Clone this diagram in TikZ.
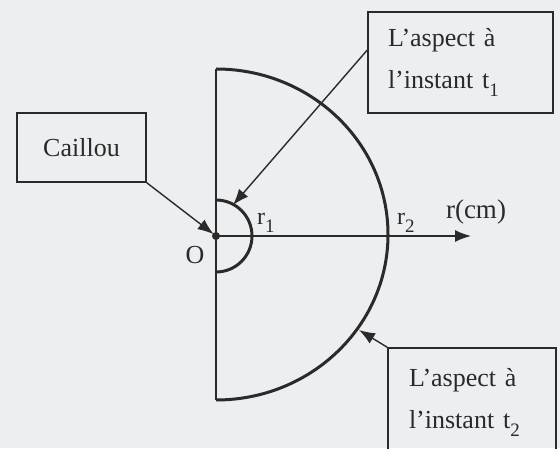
\documentclass[tikz,border=0pt]{standalone}
\usepackage{fontspec}
\setmainfont{Liberation Serif}
\usetikzlibrary{arrows.meta}
\definecolor{paper}{HTML}{EDEEF0}
\definecolor{ink}{HTML}{2A2A2A}
\newcommand{\subdig}[1]{\raisebox{-8pt}{\fontsize{19}{19}\selectfont #1}}
\begin{document}
\begin{tikzpicture}[x=1pt,y=1pt,
  box/.style={draw=ink, line width=1.4pt, text=ink, font=\fontsize{26}{42}\selectfont},
  ptr/.style={draw=ink, line width=1.4pt, -{Latex[length=16pt,width=12pt]}},
  lbl/.style={text=ink, inner sep=0pt}]
\useasboundingbox (0,0) rectangle (560,448);
\fill[paper] (0,0) rectangle (560,448);
\begin{scope}
\clip (0,0) rectangle (560,448);
% origin and named points
\coordinate (O) at (216,212);
\coordinate (top) at (216,379);
\coordinate (bot) at (216,48);
\coordinate (axend) at (471,212);
\coordinate (stop) at (216,248);
\coordinate (a1) at (233,243);
\coordinate (a2) at (359,118);
% axes
\draw[ink, line width=1.5pt] (top) -- (bot);
\draw[ink, line width=1.5pt, -{Latex[length=16pt,width=12pt]}] (O) -- (axend);
% wave fronts
\draw[ink, line width=3pt] (top) arc[start angle=90, end angle=-90, x radius=172, y radius=165.5];
\draw[ink, line width=3pt] (stop) arc[start angle=90, end angle=-90, radius=36];
\fill[ink] (O) circle (4pt);
% labels
\node[lbl, font=\fontsize{27}{27}\selectfont] (rcm) at (476,236) {r(cm)};
\node[lbl, anchor=base west, font=\fontsize{24}{24}\selectfont] (r1) at (257,223) {r\subdig{1}};
\node[lbl, anchor=base west, font=\fontsize{24}{24}\selectfont] (r2) at (397,223) {r\subdig{2}};
\node[lbl, font=\fontsize{26}{26}\selectfont] (Olab) at (195,193) {O};
% boxes
\node[box, minimum width=129pt, minimum height=69pt, inner sep=0pt] (cail) at (81.5,300.5) {Caillou};
\node[box, text width=145pt, inner xsep=20pt, inner ysep=0pt, minimum height=101pt, align=left] (t1) at (460.5,385.5) {L’aspect à\\l’instant\hspace{9pt}t\subdig{1}};
\node[box, text width=126pt, inner xsep=21pt, inner ysep=0pt, minimum height=108pt, align=left] (t2) at (472,46) {L’aspect à\\l’instant\hspace{9pt}t\subdig{2}};
% pointers
\draw[ptr, shorten >=3pt] (cail.south east) -- (O);
\draw[ptr] ([yshift=12.5pt]t1.west) -- (a1);
\draw[ptr] (t2.north west) -- (a2);
\end{scope}
\end{tikzpicture}
\end{document}
